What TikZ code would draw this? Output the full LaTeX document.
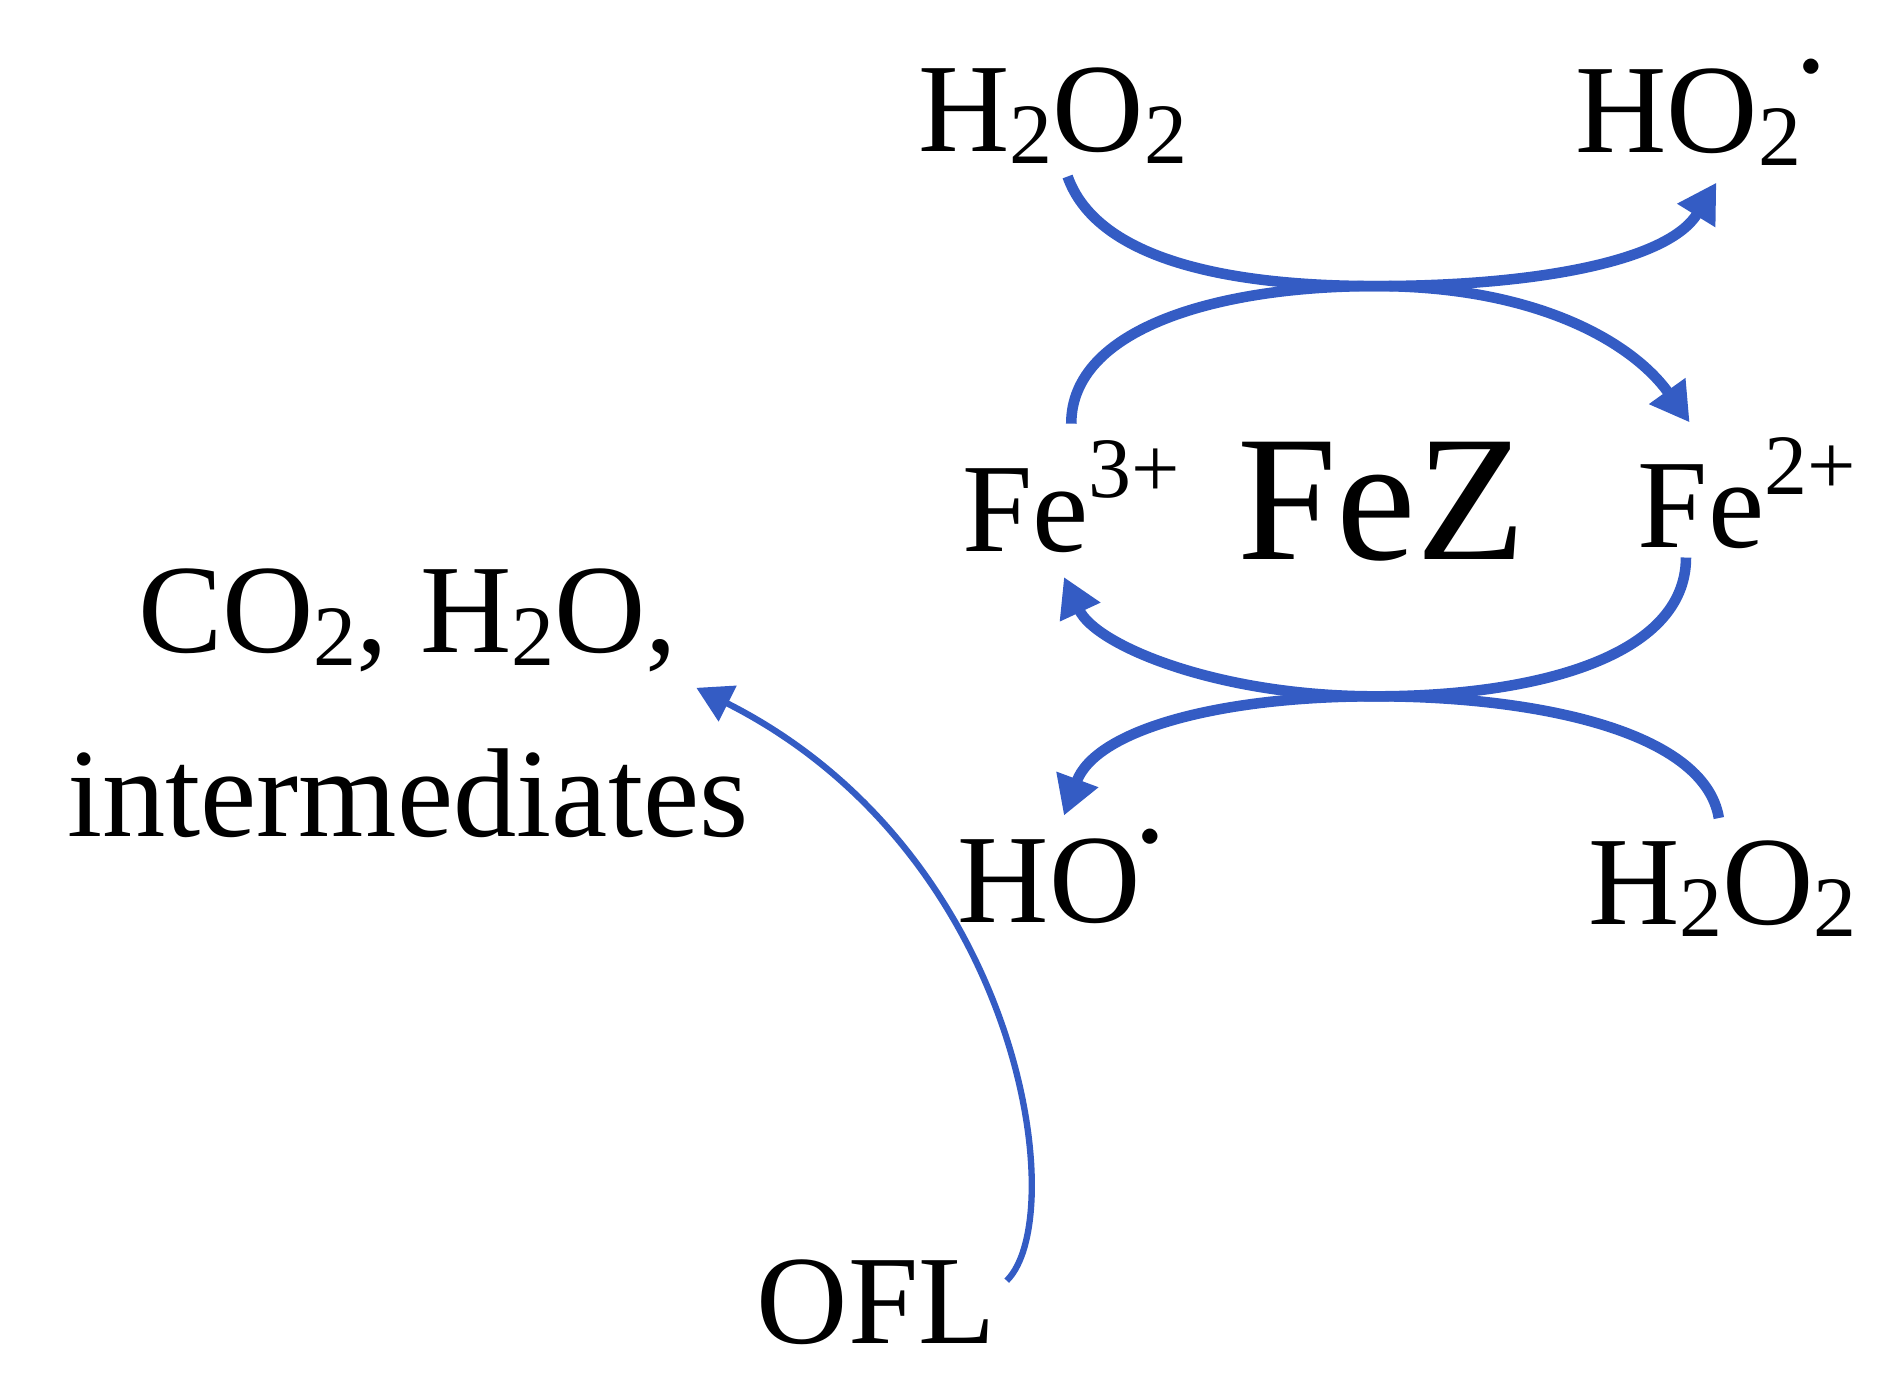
\documentclass[tikz,border=0pt]{standalone}
\usepackage{fontspec}
\setmainfont{Liberation Serif}
\usetikzlibrary{arrows.meta}
\definecolor{arr}{RGB}{52,92,196}
\newcommand{\sbs}[1]{\raisebox{-0.1em}{\scalebox{0.68}{#1}}}
\newcommand{\sps}[1]{\raisebox{0.42em}{\scalebox{0.68}{#1}}}
\newcommand{\rad}{\raisebox{0.6em}{\scalebox{0.45}{$\bullet$}}}
\tikzset{lbl/.style={font=\fontsize{36}{38}\selectfont, inner sep=0pt},
 big/.style={font=\fontsize{51}{54}\selectfont, inner sep=0pt},
 flow/.style={draw=arr, line width=3pt, -{Triangle[length=11pt,width=12pt]}},
 thin/.style={draw=arr, line width=1.8pt, -{Triangle[length=10pt,width=11pt]}}}
\begin{document}
\begin{tikzpicture}[x=0.01217cm,y=-0.01217cm]
\useasboundingbox (0,0) rectangle (1560,1140);
\node[lbl] (h2o2t) at (865,95) {H\sbs{2}O\sbs{2}};
\node[lbl] (ho2) at (1395,92) {HO\sbs{2}\rad};
\node[lbl] (fe3) at (880,408) {Fe\sps{3+}};
\node[big] (fez) at (1135,412) {FeZ};
\node[lbl] (fe2) at (1435,405) {Fe\sps{2+}};
\node[lbl] (co2) at (335,510) {CO\sbs{2}, H\sbs{2}O,};
\node[lbl] (inter) at (335,652) {intermediates};
\node[lbl] (ho) at (870,720) {HO\rad};
\node[lbl] (h2o2b) at (1415,730) {H\sbs{2}O\sbs{2}};
\node[lbl] (ofl) at (720,1070) {OFL};
\coordinate (xt) at (1130,235);
\coordinate (xb) at (1130,572);
\draw[flow] (877,145) .. controls (900,210) and (1000,235) .. (xt) .. controls (1260,235) and (1370,215) .. (1410,150);
\draw[flow] (880,348) .. controls (880,270) and (1000,235) .. (xt) .. controls (1260,235) and (1340,280) .. (1388,347);
\draw[flow] (1385,458) .. controls (1385,540) and (1260,572) .. (xb) .. controls (1000,572) and (900,530) .. (874,474);
\draw[flow] (1412,672) .. controls (1400,600) and (1260,572) .. (xb) .. controls (1000,572) and (900,600) .. (874,670);
\draw[thin] (827,1052) .. controls (880,1000) and (840,700) .. (572,565);
\end{tikzpicture}
\end{document}
